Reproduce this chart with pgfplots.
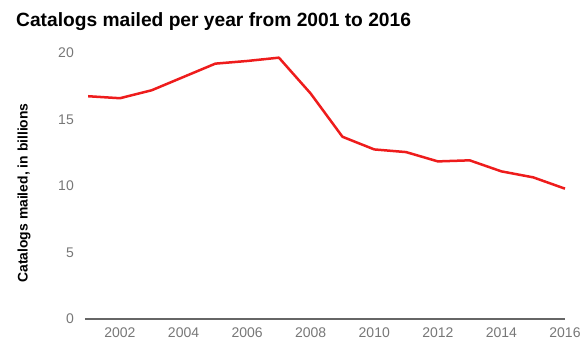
\documentclass[border=0pt]{standalone}
\usepackage{pgfplots}
\pgfplotsset{compat=1.18}
\usepackage{fontspec}
\setmainfont{Liberation Sans}
\definecolor{tickgray}{HTML}{777777}
\definecolor{axgray}{HTML}{666666}
\definecolor{linered}{HTML}{EE1C1C}
\begin{document}
\begin{tikzpicture}
\begin{axis}[
  scale only axis,
  width=480pt, height=266pt,
  xmin=2000.9, xmax=2016, ymin=0, ymax=20,
  xtick={2002,2004,...,2016},
  ytick={0,5,10,15,20},
  axis x line=bottom, axis y line=left,
  axis line style={-},
  x axis line style={draw=axgray, line width=1.3pt},
  y axis line style={draw=none},
  major tick length=0pt,
  /pgf/number format/assume math mode=true,
  /pgf/number format/1000 sep={},
  tick label style={font=\fontsize{14}{16}\selectfont, text=tickgray},
  yticklabel style={anchor=east, inner sep=0pt, xshift=-11pt},
  xticklabel style={anchor=north, inner sep=0pt, yshift=-9pt},
  ylabel={\textbf{Catalogs mailed, in billions}},
  every axis y label/.style={at={(axis description cs:-0.127,0.474)}, rotate=90, anchor=center, font=\fontsize{13.9}{16}\selectfont},
  clip=false,
]
\addplot[linered, line width=2.5pt, line join=round] coordinates {
(2001,16.75) (2002,16.6) (2003,17.2) (2004,18.2) (2005,19.2) (2006,19.4) (2007,19.65)
(2008,16.95) (2009,13.7) (2010,12.75) (2011,12.55) (2012,11.85) (2013,11.93)
(2014,11.1) (2015,10.65) (2016,9.8)};
\end{axis}
\node[anchor=west, inner sep=0pt, font=\fontsize{19.2}{22}\selectfont\bfseries] at (-69pt,297pt) {Catalogs mailed per year from 2001 to 2016};
\pgfresetboundingbox
\path[use as bounding box] (-85pt,-38pt) rectangle (499pt,319pt);
\end{tikzpicture}
\end{document}
